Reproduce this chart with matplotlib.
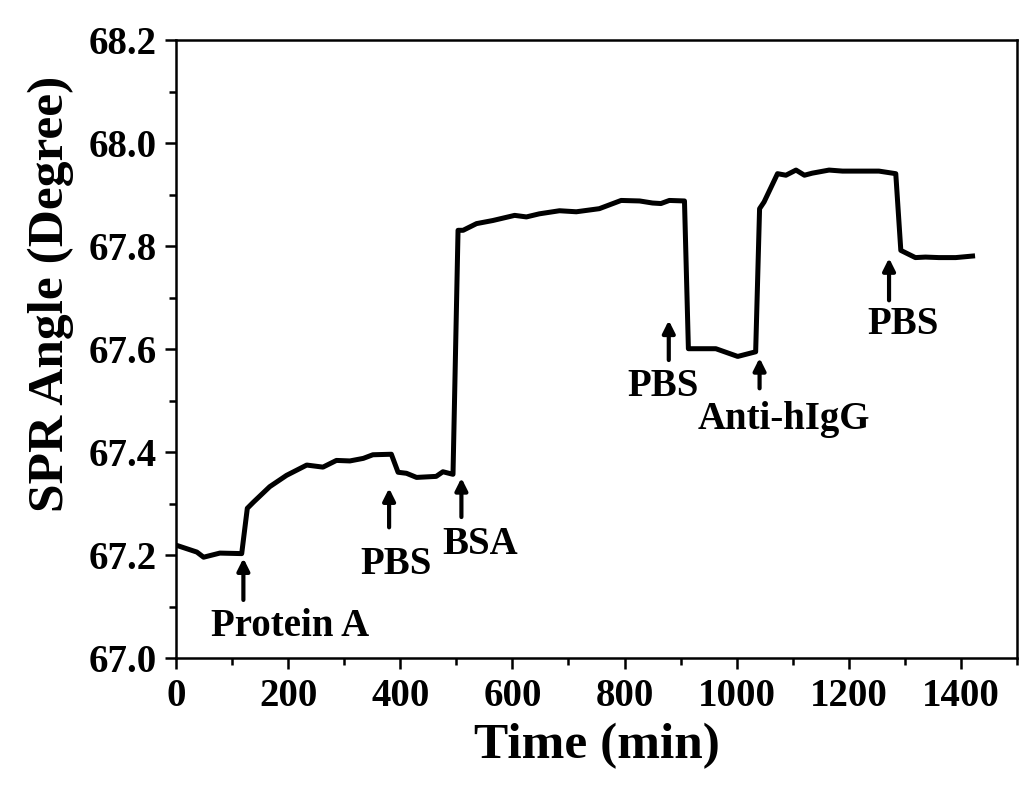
import matplotlib
matplotlib.use("Agg")
import matplotlib.pyplot as plt
from matplotlib.ticker import MultipleLocator

# SPR angle trace
time_min = [1, 37, 49, 78, 117, 127, 138, 167, 197, 233, 262, 286, 310, 334, 351, 384,
            396, 411, 429, 464, 476, 494, 503, 512, 536, 565, 604, 625, 648, 684, 714,
            755, 794, 827, 850, 865, 880, 907, 914, 963, 1002, 1034, 1041, 1049, 1073,
            1088, 1106, 1121, 1135, 1165, 1189, 1254, 1284, 1293, 1319, 1337, 1361,
            1391, 1421]
spr_angle = [67.219, 67.206, 67.196, 67.204, 67.203, 67.291, 67.303, 67.333, 67.355,
             67.375, 67.371, 67.384, 67.383, 67.388, 67.395, 67.396, 67.361, 67.359,
             67.351, 67.353, 67.362, 67.357, 67.831, 67.831, 67.844, 67.850, 67.860,
             67.857, 67.863, 67.869, 67.867, 67.873, 67.889, 67.888, 67.884, 67.883,
             67.889, 67.888, 67.601, 67.601, 67.586, 67.595, 67.873, 67.886, 67.941,
             67.938, 67.948, 67.938, 67.942, 67.948, 67.946, 67.946, 67.941, 67.792,
             67.778, 67.779, 67.778, 67.778, 67.781]

# injection markers: label, arrow x, arrow tip y, arrow tail y, text x, text y
labels = ["Protein A", "PBS", "BSA", "PBS", "Anti-hIgG", "PBS"]
arrow_x = [120, 380, 509, 879, 1041, 1272]
arrow_tip = [67.194, 67.330, 67.350, 67.656, 67.583, 67.777]
arrow_tail = [67.113, 67.254, 67.274, 67.579, 67.524, 67.695]
text_x = [203, 392, 543, 868, 1085, 1297]
text_y = [67.062, 67.182, 67.221, 67.528, 67.464, 67.648]

plt.rcParams['font.family'] = ['Liberation Serif', 'DejaVu Serif']
plt.rcParams['font.weight'] = 'bold'

fig = plt.figure(figsize=(10.24, 7.91), dpi=100)
ax = fig.add_axes([0.172, 0.168, 0.821, 0.781])

ax.plot(time_min, spr_angle, color='black', lw=3.6, solid_joinstyle='round')

for lab, ax_x, tip, tail, tx, ty in zip(labels, arrow_x, arrow_tip, arrow_tail, text_x, text_y):
    ax.annotate("", xy=(ax_x, tip), xytext=(ax_x, tail),
                arrowprops=dict(arrowstyle='-|>', lw=3, color='black',
                                mutation_scale=18, shrinkA=0, shrinkB=0))
    ax.text(tx, ty, lab, ha='center', va='center', fontsize=28, fontweight='bold')

ax.set_xlim(0, 1500)
ax.set_ylim(67.0, 68.2)
ax.xaxis.set_major_locator(MultipleLocator(200))
ax.xaxis.set_minor_locator(MultipleLocator(100))
ax.yaxis.set_major_locator(MultipleLocator(0.2))
ax.yaxis.set_minor_locator(MultipleLocator(0.1))
ax.yaxis.set_major_formatter(matplotlib.ticker.FormatStrFormatter('%.1f'))

ax.tick_params(which='major', direction='out', length=8, width=1.8, labelsize=28, pad=6)
ax.tick_params(which='minor', direction='out', length=5, width=1.8)
for sp in ax.spines.values():
    sp.set_linewidth(1.8)

ax.set_xlabel("Time (min)", fontsize=37, fontweight='bold', labelpad=6)
ax.set_ylabel("SPR Angle (Degree)", fontsize=37, fontweight='bold')
ax.yaxis.set_label_coords(-0.122, 0.59)

fig.savefig("out.png", dpi=100)
